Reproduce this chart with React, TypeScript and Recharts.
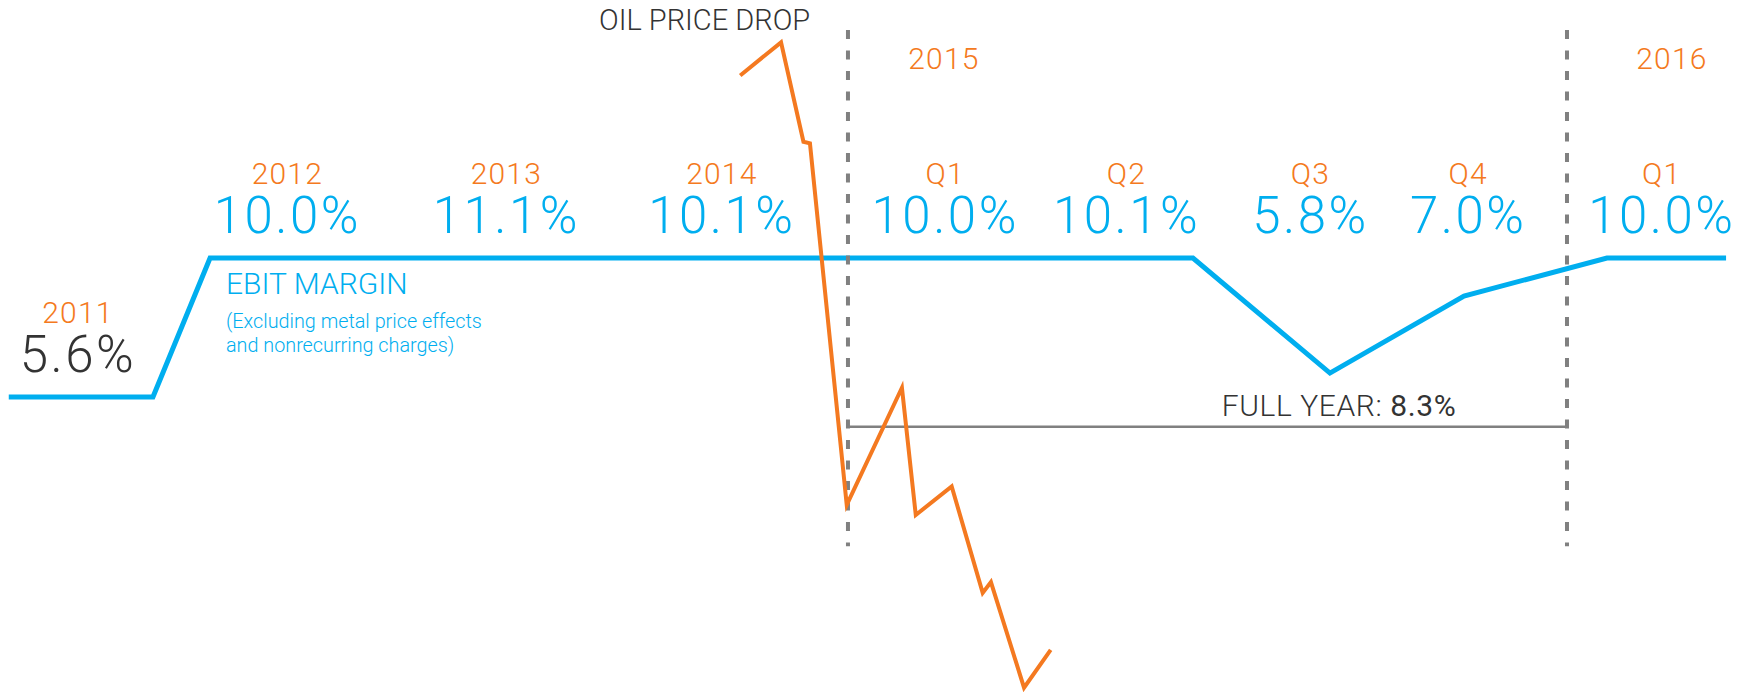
import {
  ComposedChart,
  Line,
  ReferenceDot,
  ReferenceLine,
  Scatter,
  XAxis,
  YAxis,
} from 'recharts'

// x: position along the timeline (0–100 across the chart)
// EBIT margin level as plotted on the stylised line
const ebitPos   = [0.5, 8.73, 11.99, 68.09, 75.91, 83.56, 91.72, 98.52]
const ebitLevel = [5.6, 5.6, 10.0, 10.0, 6.36, 8.8, 10.0, 10.0]

// oil price, USD per barrel
const oilPos   = [42.25, 44.58, 45.86, 46.23, 48.33, 51.48, 52.27, 54.32, 56.09, 56.56, 58.45, 59.97]
const oilPrice = [107.7, 112.0, 99.1, 98.9, 52.0, 67.2, 50.7, 54.4, 40.6, 42.0, 28.3, 33.2]

// period labels
const periods     = ['2011', '2012', '2013', '2014', 'Q1', 'Q2', 'Q3', 'Q4', 'Q1']
const margins     = [5.6, 10.0, 11.1, 10.1, 10.0, 10.1, 5.8, 7.0, 10.0]
const periodPos   = [4.45, 16.4, 28.9, 41.2, 53.95, 64.3, 74.8, 83.8, 94.85]
const periodLevel = [5.6, 10, 10, 10, 10, 10, 10, 10, 10]

const yearHeads   = ['2015', '2016']
const yearHeadPos = [53.88, 95.43]
const yearBounds  = [48.4, 89.44]
const fullYear    = 8.3

const W = 1752
const H = 694

const BLUE   = '#00aeef'
const ORANGE = '#f47920'
const DARK   = '#333333'
const GREY   = '#808080'
const FONT   = 'Roboto, "Open Sans", sans-serif'

const ebitRows   = ebitPos.map((x, i) => ({ x, y: ebitLevel[i] }))
const oilRows    = oilPos.map((x, i) => ({ x, y: oilPrice[i] }))
const periodRows = periods.map((p, i) => ({
  x: periodPos[i],
  y: periodLevel[i],
  period: p,
  margin: `${margins[i].toFixed(1)}%`,
  first: i === 0,
}))

// year / quarter on top, margin below, as one two-line text
const PeriodLabel = (props: any) => {
  const { cx, cy, payload } = props
  return (
    <text x={cx} y={cy - 74} textAnchor="middle" fontFamily={FONT} fontWeight={300}>
      <tspan x={cx} fontSize={30} letterSpacing={1.2} fill={ORANGE}>{payload.period}</tspan>
      <tspan x={cx} dy={49} fontSize={51} letterSpacing={2.5} fill={payload.first ? DARK : BLUE}>
        {payload.margin}
      </tspan>
    </text>
  )
}

export default function App() {
  return (
    <div style={{ position: 'absolute', left: 0, top: 0, width: W, height: H, background: '#fff' }}>
      <ComposedChart width={W} height={H} margin={{ top: 0, right: 0, bottom: 0, left: 0 }}>
        <XAxis dataKey="x" type="number" domain={[0, 100]} allowDataOverflow hide />
        <YAxis yAxisId="ebit" type="number" domain={[-3.8, 18.17]} allowDataOverflow hide />
        <YAxis yAxisId="oil" type="number" domain={[27.48, 117.49]} allowDataOverflow hide />

        {/* EBIT margin — blue */}
        <Line
          yAxisId="ebit"
          data={ebitRows}
          dataKey="y"
          type="linear"
          stroke={BLUE}
          strokeWidth={5}
          dot={false}
          activeDot={false}
          isAnimationActive={false}
        />

        {/* year boundaries */}
        {yearBounds.map((b) => (
          <ReferenceLine
            key={b}
            yAxisId="ebit"
            segment={[{ x: b, y: 17.22 }, { x: b, y: 0.88 }]}
            stroke={GREY}
            strokeWidth={4}
            strokeDasharray="9 11.5"
          />
        ))}

        {/* full year line */}
        <ReferenceLine
          yAxisId="ebit"
          segment={[{ x: yearBounds[0], y: 4.66 }, { x: yearBounds[1], y: 4.66 }]}
          stroke={GREY}
          strokeWidth={2.5}
        />

        {/* oil price — orange */}
        <Line
          yAxisId="oil"
          data={oilRows}
          dataKey="y"
          type="linear"
          stroke={ORANGE}
          strokeWidth={4}
          dot={false}
          activeDot={false}
          isAnimationActive={false}
        />

        <Scatter
          yAxisId="ebit"
          data={periodRows}
          dataKey="y"
          shape={PeriodLabel}
          isAnimationActive={false}
        />

        {yearHeads.map((yh, i) => (
          <ReferenceDot
            key={yh}
            yAxisId="ebit"
            x={yearHeadPos[i]}
            y={15.98}
            r={0}
            shape={(p: any) => (
              <text x={p.cx} y={p.cy} textAnchor="middle" fontFamily={FONT} fontWeight={300} fontSize={30} letterSpacing={1.2} fill={ORANGE}>
                {yh}
              </text>
            )}
          />
        ))}

        <ReferenceDot
          yAxisId="ebit"
          x={40.22}
          y={17.22}
          r={0}
          shape={(p: any) => (
            <text x={p.cx} y={p.cy} textAnchor="middle" fontFamily={FONT} fontWeight={300} fontSize={29} fill={DARK}>
              OIL PRICE DROP
            </text>
          )}
        />

        <ReferenceDot
          yAxisId="ebit"
          x={12.9}
          y={8.86}
          r={0}
          shape={(p: any) => (
            <text x={p.cx} y={p.cy} fontFamily={FONT} fontWeight={300} fill={BLUE}>
              <tspan x={p.cx} fontSize={30}>EBIT MARGIN</tspan>
              <tspan x={p.cx} dy={34} fontSize={19.8}>(Excluding metal price effects</tspan>
              <tspan x={p.cx} dy={24} fontSize={19.8}>and nonrecurring charges)</tspan>
            </text>
          )}
        />

        <ReferenceDot
          yAxisId="ebit"
          x={76.43}
          y={5.0}
          r={0}
          shape={(p: any) => (
            <text x={p.cx} y={p.cy} textAnchor="middle" fontFamily={FONT} fontSize={30} letterSpacing={0.6} fill={DARK}>
              <tspan fontWeight={300}>FULL YEAR: </tspan>
              <tspan fontWeight={400}>{`${fullYear.toFixed(1)}%`}</tspan>
            </text>
          )}
        />
      </ComposedChart>
    </div>
  )
}
